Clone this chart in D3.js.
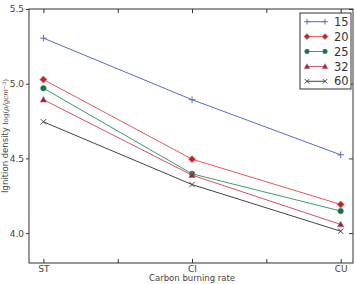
<!DOCTYPE html>
<html>
<head>
<meta charset="utf-8">
<script src="https://cdn.jsdelivr.net/npm/d3@7"></script>
<style>
  body { margin: 0; background: #fff; }
  svg { display: block; font-family: "DejaVu Sans", sans-serif; }
</style>
</head>
<body>
<div id="chart"></div>
<script>
const categories = ["ST", "CI", "CU"];
const seriesNames = ["15", "20", "25", "32", "60"];
const values15 = [5.305, 4.893, 4.524];
const values20 = [5.028, 4.495, 4.192];
const values25 = [4.970, 4.397, 4.148];
const values32 = [4.893, 4.388, 4.058];
const values60 = [4.745, 4.325, 4.013];
const yTicks = [4.0, 4.5, 5.0, 5.5];

const series = [
    { name: seriesNames[0], values: values15, line: "#5a6cc0", fill: "#5a6cc0", marker: "plus" },
    { name: seriesNames[1], values: values20, line: "#e8585a", fill: "#b5252a", marker: "diamond" },
    { name: seriesNames[2], values: values25, line: "#3d9c68", fill: "#1f6b48", marker: "circle" },
    { name: seriesNames[3], values: values32, line: "#d5506a", fill: "#852c3c", marker: "triangle" },
    { name: seriesNames[4], values: values60, line: "#444444", fill: "#444444", marker: "x" }
];

const W = 355, H = 284;
const margin = { top: 9, right: 2, bottom: 21, left: 29 };
const width = W - margin.left - margin.right;
const height = H - margin.top - margin.bottom;

const svg = d3.select("#chart").append("svg")
    .attr("width", W)
    .attr("height", H);

const g = svg.append("g")
    .attr("transform", `translate(${margin.left},${margin.top})`);

const x = d3.scaleLinear().domain([-0.097, 2.083]).range([0, width]);
const y = d3.scaleLinear().domain([3.8, 5.5]).range([height, 0]);

// frame
g.append("rect")
    .attr("width", width)
    .attr("height", height)
    .attr("fill", "none")
    .attr("stroke", "#333")
    .attr("stroke-width", 1);

const xTickVals = [0, 0.5, 1, 1.5, 2];

// bottom axis (ticks inward)
const xb = g.append("g")
    .attr("transform", `translate(0,${height})`)
    .call(d3.axisBottom(x).tickValues(xTickVals).tickSizeInner(-4).tickSizeOuter(0)
        .tickPadding(2.5)
        .tickFormat(d => Number.isInteger(d) ? categories[d] : ""));
// top axis
const xt = g.append("g")
    .call(d3.axisTop(x).tickValues(xTickVals).tickSizeInner(-4).tickSizeOuter(0).tickFormat(""));
// left axis (ticks outward)
const yl = g.append("g")
    .call(d3.axisLeft(y).tickValues(yTicks).tickSizeInner(3).tickSizeOuter(0)
        .tickPadding(2).tickFormat(d3.format(".1f")));
// right axis
const yr = g.append("g")
    .attr("transform", `translate(${width},0)`)
    .call(d3.axisRight(y).tickValues(yTicks).tickSizeInner(-4).tickSizeOuter(0).tickFormat(""));

[xb, xt, yl, yr].forEach(a => {
    a.select(".domain").remove();
    a.selectAll(".tick line").attr("stroke", "#333");
    a.selectAll(".tick text").attr("fill", "#444").style("font-size", "9px")
        .style("font-family", "DejaVu Sans, sans-serif");
});

const line = d3.line()
    .x((d, i) => x(i))
    .y(d => y(d));

function drawMarker(sel, s, px, py, size) {
    const r = size;
    if (s.marker === "plus") {
        sel.append("path")
            .attr("d", `M${px - r},${py}H${px + r}M${px},${py - r}V${py + r}`)
            .attr("stroke", s.line).attr("stroke-width", 1).attr("fill", "none");
    } else if (s.marker === "x") {
        const q = r * 0.8;
        sel.append("path")
            .attr("d", `M${px - q},${py - q}L${px + q},${py + q}M${px - q},${py + q}L${px + q},${py - q}`)
            .attr("stroke", s.fill).attr("stroke-width", 1).attr("fill", "none");
    } else if (s.marker === "diamond") {
        const q = r * 1.05;
        sel.append("path")
            .attr("d", `M${px},${py - q}L${px + q},${py}L${px},${py + q}L${px - q},${py}Z`)
            .attr("fill", s.fill).attr("stroke", s.line).attr("stroke-width", 0.8);
    } else if (s.marker === "circle") {
        sel.append("circle")
            .attr("cx", px).attr("cy", py).attr("r", r * 0.85)
            .attr("fill", s.fill).attr("stroke", s.line).attr("stroke-width", 0.6);
    } else if (s.marker === "triangle") {
        const q = r * 0.95;
        sel.append("path")
            .attr("d", `M${px},${py - q}L${px + q},${py + q * 0.75}L${px - q},${py + q * 0.75}Z`)
            .attr("fill", s.fill).attr("stroke", s.line).attr("stroke-width", 0.6);
    }
}

series.forEach(s => {
    g.append("path")
        .datum(s.values)
        .attr("d", line)
        .attr("fill", "none")
        .attr("stroke", s.line)
        .attr("stroke-width", 1);
    const mg = g.append("g");
    s.values.forEach((v, i) => drawMarker(mg, s, x(i), y(v), 3.3));
});

// legend
const legend = g.append("g").attr("transform", `translate(${width - 53},4)`);
legend.append("rect")
    .attr("width", 51)
    .attr("height", 76)
    .attr("fill", "#fff")
    .attr("stroke", "#333")
    .attr("stroke-width", 1);
series.forEach((s, i) => {
    const ly = 8.7 + i * 14.9;
    const row = legend.append("g");
    row.append("line")
        .attr("x1", 7).attr("x2", 25)
        .attr("y1", ly).attr("y2", ly)
        .attr("stroke", s.line).attr("stroke-width", 1);
    drawMarker(row, s, 7, ly, 2.8);
    drawMarker(row, s, 25, ly, 2.8);
    row.append("text")
        .attr("x", 34)
        .attr("y", ly)
        .attr("dy", "0.36em")
        .attr("fill", "#333")
        .style("font-size", "11.5px")
        .text(s.name);
});

// x label
svg.append("text")
    .attr("x", margin.left + x(1))
    .attr("y", H - 3)
    .attr("text-anchor", "middle")
    .attr("fill", "#444")
    .style("font-size", "8.5px")
    .text("Carbon burning rate");

// y label
const yLab = svg.append("text")
    .attr("transform", `translate(8,${margin.top + height / 2}) rotate(-90)`)
    .attr("text-anchor", "middle")
    .attr("fill", "#444")
    .style("font-size", "8.5px");
yLab.append("tspan").text("Ignition density ");
yLab.append("tspan")
    .style("font-family", "DejaVu Serif, serif")
    .style("font-size", "7px")
    .text("log(");
yLab.append("tspan")
    .style("font-family", "DejaVu Serif, serif")
    .style("font-style", "italic")
    .style("font-size", "7px")
    .text("ρ/gcm");
yLab.append("tspan")
    .style("font-family", "DejaVu Serif, serif")
    .style("font-size", "5px")
    .attr("dy", "-0.5em")
    .text("−3");
yLab.append("tspan")
    .style("font-family", "DejaVu Serif, serif")
    .style("font-size", "7px")
    .attr("dy", "0.35em")
    .text(")");
</script>
</body>
</html>
